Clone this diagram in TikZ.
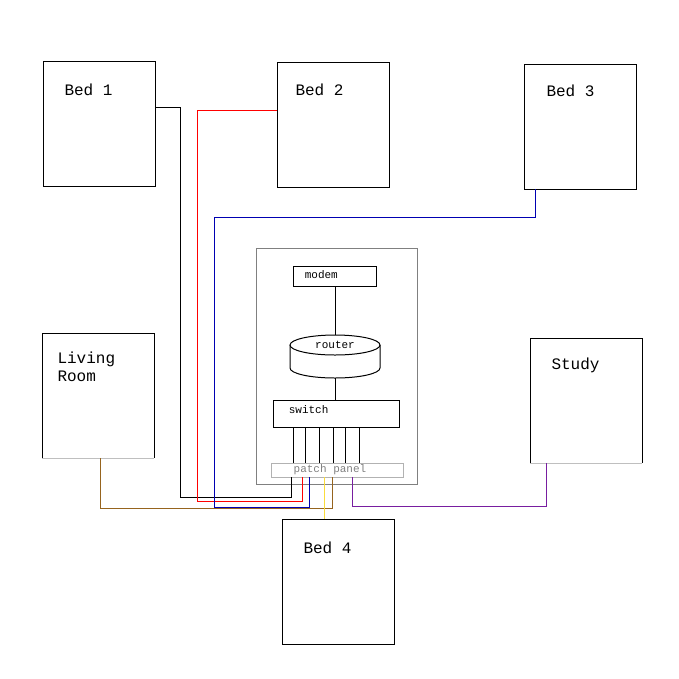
\documentclass[tikz,border=0pt]{standalone}
\usepackage{fontspec}
\setmonofont{Liberation Mono}
\definecolor{wirebrown}{RGB}{150,100,30}
\definecolor{wirepurple}{RGB}{120,30,160}
\definecolor{wireyellow}{RGB}{250,220,60}
\begin{document}
\begin{tikzpicture}[x=1pt,y=-1pt,line width=1pt,
    room/.style={draw},
    lbl/.style={anchor=north west,font=\ttfamily\fontsize{16}{18}\selectfont,align=left,inner sep=0pt},
    dev/.style={font=\ttfamily\fontsize{11}{13}\selectfont}]

    \useasboundingbox (0,0) rectangle (679,678);
    % rooms
    \draw[room] (43,61) rectangle (155,186);
    \node[lbl] (b1) at (64,83) {Bed 1};
    \draw[room] (277,62) rectangle (389,187);
    \node[lbl] (b2) at (295,83) {Bed 2};
    \draw[room] (524,64) rectangle (636,189);
    \node[lbl] (b3) at (546,84) {Bed 3};
    \draw[room] (42,458) -- (42,333) -- (154,333) -- (154,458);
    \draw[gray!50] (42,458) -- (154,458);
    \node[lbl] (lr) at (57,351) {Living\\Room};
    \draw[room] (530,463) -- (530,338) -- (642,338) -- (642,463);
    \draw[gray!50] (530,463) -- (642,463);
    \node[lbl] (st) at (551,357) {Study};
    \draw[room] (282,519) rectangle (394,644);
    \node[lbl] (b4) at (303,541) {Bed 4};

    % closet
    \draw[gray] (256,248) rectangle (417,484);
    \draw (293,266) rectangle (376,286);
    \node[dev,anchor=west] (modem) at (301,275) {modem};
    \draw[fill=white] (290,345) -- (290,368) arc[start angle=180,end angle=0,x radius=45,y radius=10] -- (380,345);
    \draw[fill=white] (335,345) ellipse[x radius=45,y radius=10];
    \node[dev] (router) at (335,345) {router};
    \draw (273,400) rectangle (399,427);
    \node[dev,anchor=west] (switch) at (285,410) {switch};
    \draw[gray!60] (271,463) rectangle (403,477);
    \node[dev,text=gray] (panel) at (330,470) {patch panel};
    \draw (335,286) -- (335,335);
    \draw (335,378) -- (335,400);
    \foreach \x in {293,305,319,333,345,359}
        \draw (\x,427) -- (\x,463);

    % wires
    \draw (291,477) -- (291,497) -- (180,497) -- (180,107) -- (155,107);
    \draw[red] (302,477) -- (302,501) -- (197,501) -- (197,110) -- (277,110);
    \draw[blue!70!black] (309,477) -- (309,507) -- (214,507) -- (214,217) -- (535,217) -- (535,189);
    \draw[wirebrown] (100,458) -- (100,508) -- (332,508) -- (332,477);
    \draw[wireyellow] (324,477) -- (324,519);
    \draw[wirepurple] (352,477) -- (352,506) -- (546,506) -- (546,463);
\end{tikzpicture}
\end{document}
